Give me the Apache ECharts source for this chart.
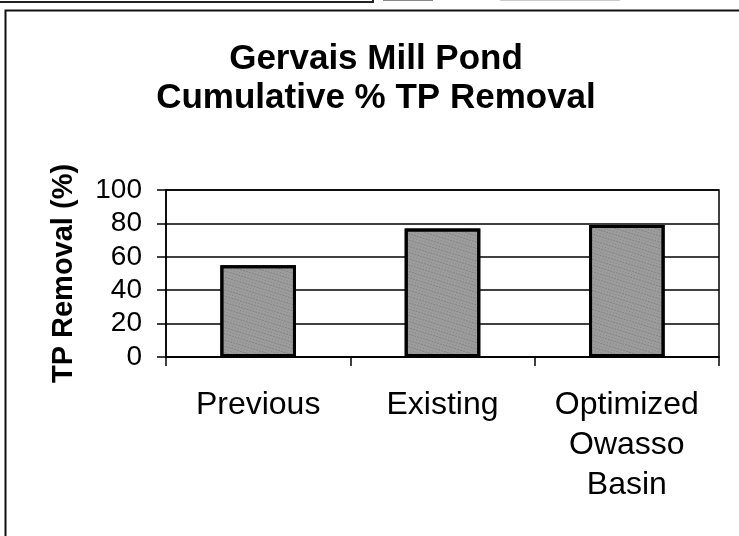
<!DOCTYPE html>
<html>
<head>
<meta charset="utf-8">
<script src="https://cdn.jsdelivr.net/npm/echarts@6/dist/echarts.min.js"></script>
<style>
html,body{margin:0;padding:0;background:#fff;}
#chart{width:739px;height:536px;}
</style>
</head>
<body>
<div id="chart"></div>
<script>
var categories = ['Previous', 'Existing', 'Optimized\nOwasso\nBasin'];
var removalValues = [55, 77, 79];
var yTicks = {min: 0, max: 100, interval: 20};
var titleLines = ['Gervais Mill Pond', 'Cumulative % TP Removal'];
var yAxisName = 'TP Removal (%)';

var FONT = '"Liberation Sans", Arial, sans-serif';
var chart = echarts.init(document.getElementById('chart'), null, {renderer: 'canvas'});
chart.setOption({
  backgroundColor: '#ffffff',
  animation: false,
  aria: {enabled: true, decal: {show: true}},
  title: {
    text: titleLines.join('\n'),
    left: 376, top: 40, textAlign: 'center', padding: 0,
    textStyle: {fontFamily: FONT, fontSize: 35, fontWeight: 'bold', color: '#000', lineHeight: 39}
  },
  grid: {left: 166, top: 190, width: 553, height: 167, show: true, borderColor: '#000', borderWidth: 1.5, backgroundColor: 'transparent'},
  xAxis: {
    type: 'category', data: categories,
    axisLine: {show: true, lineStyle: {color: '#000', width: 1.5}},
    axisTick: {show: true, length: 9, lineStyle: {color: '#000', width: 1.5}},
    axisLabel: {fontFamily: FONT, fontSize: 32, color: '#000', lineHeight: 40, margin: 28, interval: 0}
  },
  yAxis: {
    type: 'value', min: yTicks.min, max: yTicks.max, interval: yTicks.interval,
    name: yAxisName, nameLocation: 'middle', nameGap: 88, nameRotate: 90,
    nameTextStyle: {fontFamily: FONT, fontSize: 29, fontWeight: 'bold', color: '#000'},
    axisLine: {show: true, lineStyle: {color: '#000', width: 1.5}},
    axisTick: {show: true, inside: false, length: 9, lineStyle: {color: '#000', width: 1.5}},
    axisLabel: {fontFamily: FONT, fontSize: 28, color: '#000', margin: 24},
    splitLine: {show: true, lineStyle: {color: '#000', width: 1.5}}
  },
  series: [{
    type: 'bar', data: removalValues, barWidth: '41%',
    itemStyle: {
      color: '#9c9c9c', borderColor: '#000', borderWidth: 3,
      decal: {symbol: 'rect', symbolSize: 0.7, dashArrayX: [[1, 2], [2, 1]], dashArrayY: [1, 2], rotation: 0.3, color: 'rgba(30,30,30,0.55)'}
    }
  }],
  graphic: [
    {type: 'rect', shape: {x: 5.5, y: 10.5, width: 800, height: 600}, style: {fill: 'none', stroke: '#111', lineWidth: 2}, silent: true},
    {type: 'polyline', shape: {points: [[0, 2], [373, 2], [373, 0]]}, style: {fill: 'none', stroke: '#222', lineWidth: 2}, silent: true},
    {type: 'line', shape: {x1: 383, y1: 0.5, x2: 433, y2: 0.5}, style: {stroke: '#888', lineWidth: 1}, silent: true},
    {type: 'line', shape: {x1: 500, y1: 0.5, x2: 620, y2: 0.5}, style: {stroke: '#ccc', lineWidth: 1}, silent: true}
  ]
});
</script>
</body>
</html>
